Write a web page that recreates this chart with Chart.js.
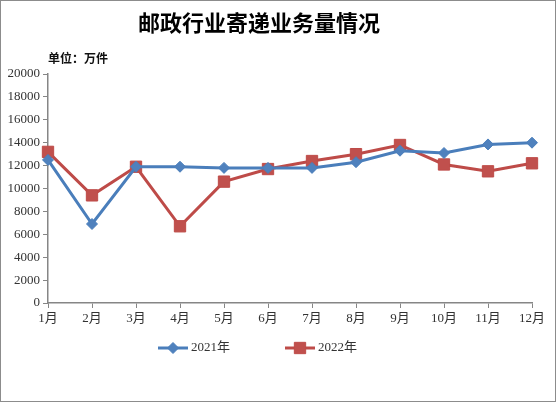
<!DOCTYPE html>
<html>
<head>
<meta charset="utf-8">
<script src="https://cdn.jsdelivr.net/npm/chart.js@4/dist/chart.umd.min.js"></script>
<style>
  html, body { margin: 0; padding: 0; background: #fff; }
  #wrap { width: 556px; height: 402px; position: relative; }
</style>
</head>
<body>
<div id="wrap"><canvas id="postChart" width="556" height="402"></canvas></div>
<script>
// Data
const months = ['1月', '2月', '3月', '4月', '5月', '6月', '7月', '8月', '9月', '10月', '11月', '12月'];
const volume2021 = [12500, 6900, 11900, 11900, 11800, 11800, 11800, 12300, 13300, 13100, 13850, 14000];
const volume2022 = [13200, 9400, 11900, 6700, 10600, 11700, 12400, 13000, 13800, 12100, 11500, 12200];
const seriesNames = ['2021年', '2022年'];
const yMin = 0;
const yMax = 20000;
const yStep = 2000;

const chartTitle = '邮政行业寄递业务量情况';
const unitText = '单位：万件';

const serifFont = '"Liberation Serif", "Noto Sans CJK SC", serif';
const cjkFont = '"Noto Sans CJK SC", sans-serif';
const axisColor = '#868686';
const textColor = '#333';

// Title, unit, legend and frame drawn on top of the chart
const decorPlugin = {
    id: 'decor',
    afterDraw(chart) {
        const ctx = chart.ctx;
        const area = chart.chartArea;
        ctx.save();

        // outer frame
        ctx.strokeStyle = '#8c8c8c';
        ctx.lineWidth = 1;
        ctx.strokeRect(0.5, 0.5, chart.width - 1, chart.height - 1);

        // title
        ctx.fillStyle = '#000';
        ctx.font = 'bold 22px ' + cjkFont;
        ctx.textAlign = 'center';
        ctx.textBaseline = 'middle';
        ctx.fillText(chartTitle, 259, 23);

        // unit label
        ctx.font = 'bold 12px ' + cjkFont;
        ctx.textAlign = 'left';
        ctx.fillStyle = '#111';
        ctx.fillText(unitText, area.left, 58);

        // legend: line + marker + text
        const legendX = [158, 285];
        const legendY = 348;
        chart.data.datasets.forEach((ds, i) => {
            const x = legendX[i];
            ctx.strokeStyle = ds.borderColor;
            ctx.lineWidth = 3;
            ctx.beginPath();
            ctx.moveTo(x, legendY);
            ctx.lineTo(x + 30, legendY);
            ctx.stroke();
            ctx.fillStyle = ds.pointBackgroundColor;
            ctx.strokeStyle = ds.pointBorderColor;
            ctx.lineWidth = 1;
            Chart.helpers.drawPoint(ctx, {
                pointStyle: ds.pointStyle,
                radius: ds.pointRadius,
                rotation: 0,
                borderWidth: 1
            }, x + 15, legendY);
            ctx.fillStyle = textColor;
            ctx.font = '13px ' + serifFont;
            ctx.textAlign = 'left';
            ctx.textBaseline = 'middle';
            ctx.fillText(ds.label, x + 33, legendY);
        });

        ctx.restore();
    }
};

const config = {
    type: 'line',
    data: {
        labels: months,
        datasets: [{
            label: seriesNames[0],
            data: volume2021,
            borderColor: '#4A7EBB',
            borderWidth: 3,
            pointStyle: 'rectRot',
            pointRadius: 5.5,
            pointBackgroundColor: '#4F81BD',
            pointBorderColor: '#4A7EBB',
            pointBorderWidth: 1,
            tension: 0
        }, {
            label: seriesNames[1],
            data: volume2022,
            borderColor: '#BE4B48',
            borderWidth: 3,
            pointStyle: 'rect',
            pointRadius: 8,
            pointBackgroundColor: '#C0504D',
            pointBorderColor: '#BE4B48',
            pointBorderWidth: 1,
            tension: 0
        }]
    },
    options: {
        responsive: false,
        animation: false,
        layout: {
            padding: { top: 74, left: 0, right: 24, bottom: 69 }
        },
        plugins: {
            legend: { display: false },
            title: { display: false },
            tooltip: { enabled: false }
        },
        scales: {
            x: {
                type: 'category',
                offset: false,
                afterFit: function(scale) { scale.height = 30; },
                border: { color: axisColor, width: 1.5 },
                grid: {
                    display: true,
                    drawOnChartArea: false,
                    drawTicks: true,
                    tickLength: 5,
                    color: axisColor
                },
                ticks: {
                    color: textColor,
                    padding: 3,
                    maxRotation: 0,
                    autoSkip: false,
                    font: { family: serifFont, size: 13 }
                }
            },
            y: {
                min: yMin,
                max: yMax,
                afterFit: function(scale) { scale.width = 48; },
                border: { color: axisColor, width: 1.5 },
                grid: {
                    display: true,
                    drawOnChartArea: false,
                    drawTicks: true,
                    tickLength: 5,
                    color: axisColor
                },
                ticks: {
                    stepSize: yStep,
                    color: textColor,
                    padding: 3,
                    font: { family: serifFont, size: 13 },
                    callback: function(value) {
                        return String(value);
                    }
                }
            }
        }
    },
    plugins: [decorPlugin]
};

new Chart(document.getElementById('postChart'), config);
</script>
</body>
</html>
